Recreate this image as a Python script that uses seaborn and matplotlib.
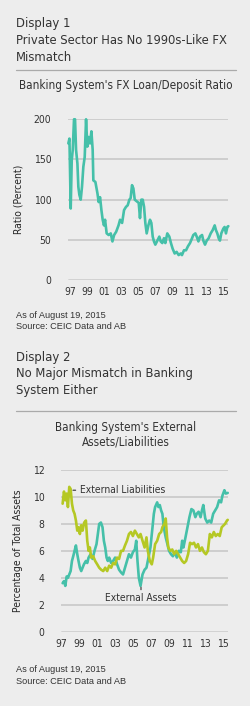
import matplotlib
matplotlib.use("Agg")
import matplotlib.pyplot as plt
import seaborn as sns
from matplotlib.lines import Line2D

# Display 1: FX loan/deposit ratio (percent)
ratio_years = [1996.80, 1996.93, 1997.08, 1997.20, 1997.32, 1997.47, 1997.59, 1997.71, 1997.87, 1997.98,
               1998.10, 1998.26, 1998.41, 1998.57, 1998.73, 1998.89, 1999.04, 1999.20, 1999.36, 1999.52,
               1999.67, 1999.75, 1999.99, 2000.23, 2000.38, 2000.54, 2000.70, 2000.85, 2001.00, 2001.13,
               2001.32, 2001.56, 2001.80, 2002.00, 2002.20, 2002.44, 2002.72, 2002.90, 2003.14, 2003.37,
               2003.60, 2003.80, 2004.00, 2004.15, 2004.31, 2004.47, 2004.63, 2004.86, 2005.10, 2005.25,
               2005.41, 2005.57, 2005.73, 2005.88, 2006.04, 2006.24, 2006.43, 2006.59, 2006.75, 2006.90,
               2007.06, 2007.30, 2007.53, 2007.69, 2007.88, 2008.08, 2008.24, 2008.47, 2008.71, 2008.90,
               2009.10, 2009.34, 2009.57, 2009.81, 2010.05, 2010.20, 2010.44, 2010.68, 2010.91, 2011.15,
               2011.39, 2011.54, 2011.78, 2011.94, 2012.14, 2012.33, 2012.57, 2012.72, 2012.92, 2013.12,
               2013.35, 2013.59, 2013.82, 2014.06, 2014.21, 2014.37, 2014.53, 2014.68, 2014.84, 2015.08,
               2015.23, 2015.39, 2015.55, 2015.67]
ratio_values = [170, 176, 89, 149, 162, 200, 200, 162, 145, 116,
                106, 100, 116, 141, 153, 200, 166, 178, 170, 185,
                162, 124, 122, 108, 97, 103, 87, 75, 68, 75,
                58, 56, 58, 48, 56, 60, 68, 75, 71, 87,
                91, 93, 100, 102, 118, 114, 100, 98, 96, 77,
                100, 100, 91, 71, 58, 68, 75, 71, 54, 48,
                44, 49, 54, 48, 46, 52, 46, 58, 54, 46,
                39, 33, 35, 31, 33, 31, 37, 37, 42, 46,
                52, 56, 58, 54, 48, 54, 56, 49, 44, 49,
                52, 58, 62, 68, 62, 58, 52, 49, 58, 64,
                66, 58, 66, 67]

# Display 2: external liabilities / assets (% of total assets)
liab_years = [1997.18, 1997.33, 1997.48, 1997.63, 1997.77, 1997.92, 1998.07, 1998.22, 1998.36, 1998.51,
              1998.66, 1998.81, 1998.95, 1999.10, 1999.25, 1999.40, 1999.58, 1999.77, 1999.92, 2000.07,
              2000.21, 2000.36, 2000.58, 2000.80, 2001.03, 2001.25, 2001.47, 2001.70, 2001.92, 2002.14,
              2002.36, 2002.58, 2002.80, 2003.02, 2003.24, 2003.46, 2003.68, 2003.90, 2004.12, 2004.34,
              2004.56, 2004.78, 2005.00, 2005.22, 2005.44, 2005.66, 2005.85, 2006.07, 2006.30, 2006.51,
              2006.66, 2006.88, 2007.10, 2007.25, 2007.47, 2007.70, 2007.92, 2008.14, 2008.28, 2008.50,
              2008.65, 2008.80, 2008.94, 2009.16, 2009.38, 2009.60, 2009.82, 2010.04, 2010.26, 2010.48,
              2010.70, 2010.92, 2011.14, 2011.36, 2011.58, 2011.80, 2012.02, 2012.24, 2012.46, 2012.68,
              2012.90, 2013.12, 2013.34, 2013.56, 2013.78, 2014.00, 2014.22, 2014.44, 2014.66, 2014.88,
              2015.10, 2015.25, 2015.47, 2015.55]
liab_values = [9.5, 10.4, 9.75, 10.25, 9.25, 10.75, 10.6, 9.5, 9.0, 8.75,
               8.25, 7.5, 7.75, 7.25, 7.9, 7.5, 8.1, 8.25, 6.75, 6.0,
               6.25, 5.5, 5.6, 5.25, 5.0, 4.75, 4.6, 4.5, 4.75, 4.5,
               4.9, 4.75, 5.1, 5.0, 5.5, 5.4, 6.0, 6.0, 6.4, 6.75,
               7.25, 7.4, 7.1, 7.5, 7.25, 7.0, 7.25, 6.75, 6.25, 7.0,
               6.0, 5.25, 5.0, 5.5, 6.5, 6.75, 7.25, 7.4, 7.75, 8.0,
               8.4, 7.0, 6.25, 6.0, 6.1, 5.75, 6.0, 5.75, 5.5, 5.25,
               5.1, 5.25, 5.75, 6.6, 6.5, 6.6, 6.25, 6.5, 6.0, 6.25,
               5.9, 5.75, 6.0, 7.25, 7.0, 7.4, 7.1, 7.25, 7.1, 7.75,
               7.9, 8.0, 8.25, 8.3]

asset_years = [1997.18, 1997.33, 1997.48, 1997.63, 1997.77, 1997.92, 1998.07, 1998.22, 1998.36, 1998.51,
               1998.66, 1998.81, 1998.95, 1999.10, 1999.25, 1999.40, 1999.55, 1999.77, 1999.92, 2000.07,
               2000.29, 2000.51, 2000.73, 2000.95, 2001.10, 2001.25, 2001.44, 2001.62, 2001.77, 2001.92,
               2002.07, 2002.21, 2002.36, 2002.58, 2002.80, 2003.02, 2003.24, 2003.46, 2003.68, 2003.90,
               2004.12, 2004.34, 2004.56, 2004.78, 2005.00, 2005.22, 2005.37, 2005.51, 2005.66, 2005.85,
               2006.07, 2006.30, 2006.51, 2006.73, 2006.95, 2007.18, 2007.33, 2007.47, 2007.70, 2007.84,
               2007.99, 2008.14, 2008.28, 2008.43, 2008.65, 2008.80, 2009.02, 2009.24, 2009.45, 2009.67,
               2009.89, 2010.11, 2010.33, 2010.48, 2010.62, 2010.85, 2011.07, 2011.29, 2011.51, 2011.73,
               2011.95, 2012.10, 2012.31, 2012.53, 2012.68, 2012.83, 2013.05, 2013.27, 2013.49, 2013.71,
               2013.93, 2014.15, 2014.37, 2014.59, 2014.81, 2014.96, 2015.18, 2015.33, 2015.55]
asset_values = [3.6, 3.75, 3.4, 4.1, 4.0, 4.25, 4.5, 5.25, 5.6, 6.0,
                6.4, 5.75, 5.25, 4.75, 4.5, 4.75, 5.0, 5.25, 5.1, 5.5,
                5.75, 5.4, 6.0, 6.5, 7.25, 8.0, 8.1, 7.75, 6.75, 6.25,
                5.5, 5.25, 5.5, 5.1, 5.25, 5.5, 5.0, 4.6, 4.4, 4.25,
                4.75, 5.25, 5.75, 5.5, 5.9, 6.1, 6.75, 5.25, 4.0, 3.4,
                4.25, 4.6, 4.75, 5.5, 6.25, 7.75, 8.75, 9.25, 9.6, 9.25,
                9.4, 9.0, 8.75, 7.75, 7.0, 6.6, 6.0, 5.75, 5.6, 5.9,
                5.5, 6.0, 5.9, 6.75, 6.25, 7.0, 7.75, 8.5, 9.1, 9.0,
                8.5, 8.75, 8.9, 8.5, 9.0, 9.4, 8.4, 8.1, 8.25, 8.1,
                8.75, 9.0, 9.25, 9.75, 9.6, 10.1, 10.5, 10.25, 10.3]

tick_years = [1997, 1999, 2001, 2003, 2005, 2007, 2009, 2011, 2013, 2015]
tick_labels = ['97', '99', '01', '03', '05', '07', '09', '11', '13', '15']

# style
bg = '#EDEDED'
teal = '#45C0A9'
lime = '#B5C824'
grid_c = '#C5C5C5'
txt = '#333333'

sns.set_style('white', {'axes.facecolor': bg, 'figure.facecolor': bg})
plt.rcParams['font.family'] = ['DejaVu Sans']
plt.rcParams['font.stretch'] = 'condensed'
plt.rcParams['text.color'] = txt

W, H = 250, 706
fig = plt.figure(figsize=(W / 100, H / 100), dpi=100)


def fx(px):
    return px / W


def fy(py):
    return 1 - py / H


def header(y0, display, title_lines, sub_lines, rule_y):
    fig.text(fx(16), fy(y0), display, fontsize=9.4, va='center', ha='left')
    for i, line in enumerate(title_lines):
        fig.text(fx(16), fy(y0 + 17 + i * 16.5), line, fontsize=9.3, va='center', ha='left')
    fig.add_artist(Line2D([fx(16), fx(236)], [fy(rule_y), fy(rule_y)], color='#AAAAAA', lw=0.9))
    for i, line in enumerate(sub_lines):
        fig.text(fx(126), fy(rule_y + 16 + i * 15), line, fontsize=8.4, va='center', ha='center')


def footer(y0):
    fig.text(fx(16), fy(y0), 'As of August 19, 2015', fontsize=6.6, va='center',
             family='Liberation Sans', stretch='normal')
    fig.text(fx(16), fy(y0 + 11), 'Source: CEIC Data and AB', fontsize=6.6, va='center',
             family='Liberation Sans', stretch='normal')


def style_axes(ax, yticks):
    for s in ax.spines.values():
        s.set_visible(False)
    ax.set_yticks(yticks)
    ax.set_xticks(tick_years)
    ax.set_xticklabels(tick_labels)
    ax.tick_params(length=0, labelsize=7.5, colors=txt)
    ax.tick_params(axis='y', pad=12)
    ax.tick_params(axis='x', pad=5)
    for yv in yticks[1:]:
        ax.axhline(yv, color=grid_c, lw=1.1, zorder=0)
    ax.axhline(yticks[0], color='#666666', lw=1.0, zorder=0)
    ax.set_xlabel('')


# ---- Display 1
header(24, 'Display 1', ['Private Sector Has No 1990s-Like FX', 'Mismatch'],
       ["Banking System's FX Loan/Deposit Ratio"], 69.5)

ax1 = fig.add_axes([fx(68), fy(280), fx(160), 160.7 / H])
sns.lineplot(x=ratio_years, y=ratio_values, ax=ax1, color=teal, lw=1.9, clip_on=False)
ax1.set_xlim(1996.76, 2015.63)
ax1.set_ylim(0, 200)
style_axes(ax1, [0, 50, 100, 150, 200])
ax1.set_ylabel('Ratio (Percent)', fontsize=7.5, labelpad=7)
footer(315)

# ---- Display 2
header(357, 'Display 2', ['No Major Mismatch in Banking', 'System Either'],
       ["Banking System's External", 'Assets/Liabilities'], 411)

ax2 = fig.add_axes([fx(61), fy(631.7), fx(167), 161.7 / H])
sns.lineplot(x=asset_years, y=asset_values, ax=ax2, color=teal, lw=1.9, clip_on=False)
sns.lineplot(x=liab_years, y=liab_values, ax=ax2, color=lime, lw=1.9, clip_on=False)
ax2.set_xlim(1997.11, 2015.58)
ax2.set_ylim(0, 12)
style_axes(ax2, [0, 2, 4, 6, 8, 10, 12])
ax2.set_ylabel('Percentage of Total Assets', fontsize=7.5, labelpad=7)

ax2.annotate('External Liabilities', xy=(1998.33, 10.5), xytext=(1999.15, 10.5),
             fontsize=7.4, va='center', ha='left',
             arrowprops=dict(arrowstyle='-', color=txt, lw=0.8, shrinkA=1, shrinkB=0))
ax2.annotate('External Assets', xy=(2005.9, 3.3), xytext=(2005.9, 2.5),
             fontsize=7.4, va='center', ha='center',
             arrowprops=dict(arrowstyle='-', color=txt, lw=0.8, shrinkA=5, shrinkB=0))
footer(670)

fig.savefig('out.png', dpi=100, facecolor=bg)
